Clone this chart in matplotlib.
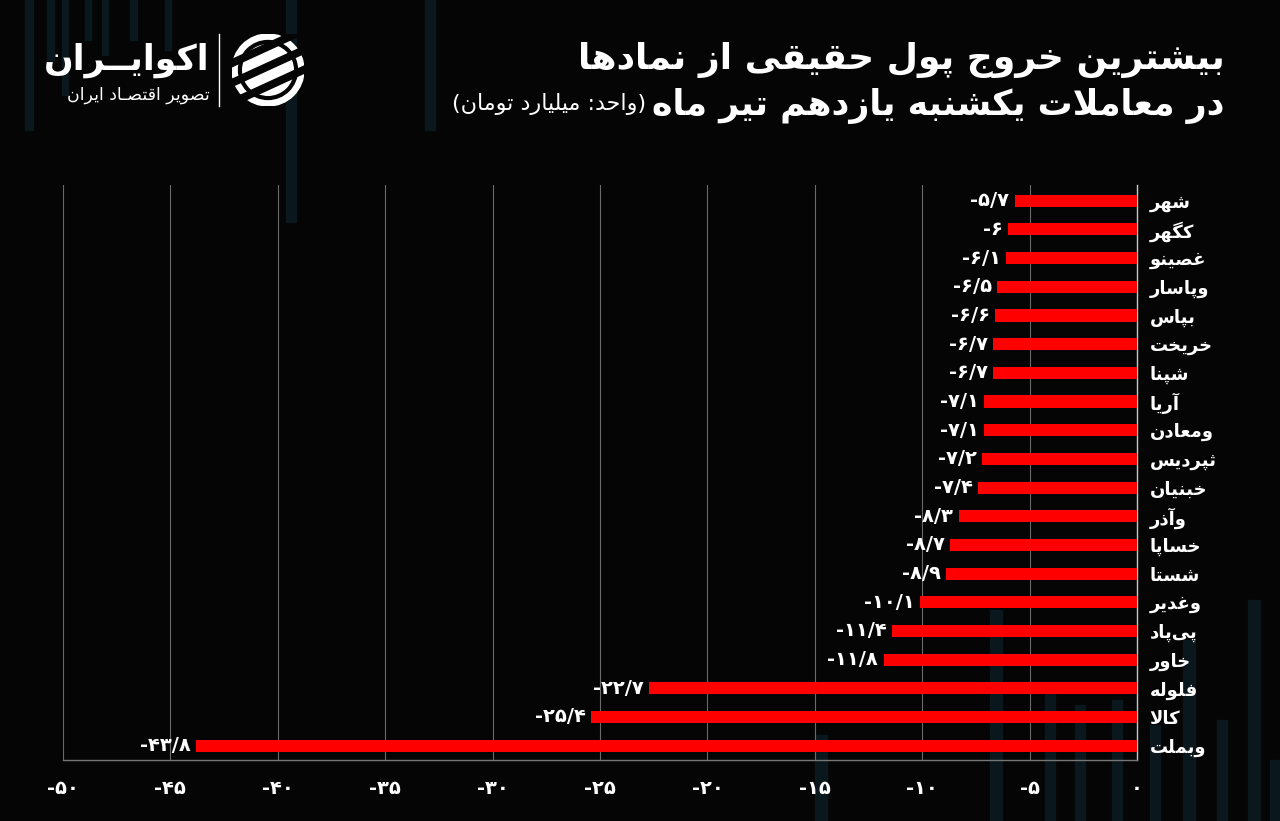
# Persian bar chart: biggest real-money outflows (billion toman)
import numpy as np
import matplotlib
matplotlib.use("Agg")
import matplotlib.pyplot as plt
from matplotlib.patches import Rectangle, Circle, Polygon

symbols = ["شهر", "کگهر", "غصینو", "وپاسار", "بپاس", "خریخت", "شپنا", "آریا",
           "ومعادن", "ثپردیس", "خبنیان", "وآذر", "خساپا", "شستا", "وغدیر",
           "پی\u200cپاد", "خاور", "فلوله", "کالا", "وبملت"]
values = [-5.7, -6, -6.1, -6.5, -6.6, -6.7, -6.7, -7.1, -7.1, -7.2, -7.4,
          -8.3, -8.7, -8.9, -10.1, -11.4, -11.8, -22.7, -25.4, -43.8]
xticks = [-50, -45, -40, -35, -30, -25, -20, -15, -10, -5, 0]

title1 = "بیشترین خروج پول حقیقی از نمادها"
title2 = "در معاملات یکشنبه یازدهم تیر ماه"
unit = "(واحد: میلیارد تومان)"
brand = "اکوایــران"
brand_sub = "تصویر اقتصـاد ایران"

BG = "#050505"

# --- minimal arabic/persian shaping (matplotlib has no text shaping) ---
FORMS = {
    'ا': (0xFE8D, 0xFE8E), 'آ': (0xFE81, 0xFE82), 'د': (0xFEA9, 0xFEAA),
    'ذ': (0xFEAB, 0xFEAC), 'ر': (0xFEAD, 0xFEAE), 'ز': (0xFEAF, 0xFEB0),
    'ژ': (0xFB8A, 0xFB8B), 'و': (0xFEED, 0xFEEE),
    'ب': (0xFE8F, 0xFE90, 0xFE91, 0xFE92), 'پ': (0xFB56, 0xFB57, 0xFB58, 0xFB59),
    'ت': (0xFE95, 0xFE96, 0xFE97, 0xFE98), 'ث': (0xFE99, 0xFE9A, 0xFE9B, 0xFE9C),
    'ج': (0xFE9D, 0xFE9E, 0xFE9F, 0xFEA0), 'چ': (0xFB7A, 0xFB7B, 0xFB7C, 0xFB7D),
    'ح': (0xFEA1, 0xFEA2, 0xFEA3, 0xFEA4), 'خ': (0xFEA5, 0xFEA6, 0xFEA7, 0xFEA8),
    'س': (0xFEB1, 0xFEB2, 0xFEB3, 0xFEB4), 'ش': (0xFEB5, 0xFEB6, 0xFEB7, 0xFEB8),
    'ص': (0xFEB9, 0xFEBA, 0xFEBB, 0xFEBC), 'ض': (0xFEBD, 0xFEBE, 0xFEBF, 0xFEC0),
    'ط': (0xFEC1, 0xFEC2, 0xFEC3, 0xFEC4), 'ظ': (0xFEC5, 0xFEC6, 0xFEC7, 0xFEC8),
    'ع': (0xFEC9, 0xFECA, 0xFECB, 0xFECC), 'غ': (0xFECD, 0xFECE, 0xFECF, 0xFED0),
    'ف': (0xFED1, 0xFED2, 0xFED3, 0xFED4), 'ق': (0xFED5, 0xFED6, 0xFED7, 0xFED8),
    'ک': (0xFB8E, 0xFB8F, 0xFB90, 0xFB91), 'گ': (0xFB92, 0xFB93, 0xFB94, 0xFB95),
    'ل': (0xFEDD, 0xFEDE, 0xFEDF, 0xFEE0), 'م': (0xFEE1, 0xFEE2, 0xFEE3, 0xFEE4),
    'ن': (0xFEE5, 0xFEE6, 0xFEE7, 0xFEE8), 'ه': (0xFEE9, 0xFEEA, 0xFEEB, 0xFEEC),
    'ی': (0xFBFC, 0xFBFD, 0xFBFE, 0xFBFF), 'ـ': (0x640, 0x640, 0x640, 0x640),
}
LAMALEF = {'ا': (0xFEFB, 0xFEFC), 'آ': (0xFEF5, 0xFEF6)}
MIRROR = {'(': ')', ')': '('}


def fa(s):
    out = []
    i = 0
    while i < len(s):
        c = s[i]
        if c not in FORMS:
            if c != '\u200c':
                out.append(MIRROR.get(c, c))
            i += 1
            continue
        prev = s[i - 1] if i > 0 else ''
        cp = len(FORMS.get(prev, ())) == 4
        if c == 'ل' and i + 1 < len(s) and s[i + 1] in LAMALEF:
            lig = LAMALEF[s[i + 1]]
            out.append(chr(lig[1] if cp else lig[0]))
            i += 2
            continue
        nxt = s[i + 1] if i + 1 < len(s) else ''
        f = FORMS[c]
        cn = len(f) == 4 and nxt in FORMS
        if cp and cn:
            g = f[3]
        elif cp:
            g = f[1]
        elif cn:
            g = f[2]
        else:
            g = f[0]
        out.append(chr(g))
        i += 1
    return ''.join(out[::-1])


def fa_num(v):
    return f"{v:g}".translate(str.maketrans("0123456789.", "۰۱۲۳۴۵۶۷۸۹/"))


plt.rcParams['font.family'] = ['DejaVu Sans']

fig = plt.figure(figsize=(12.8, 8.21), dpi=100, facecolor=BG)


def fx(x):
    return x / 1280


def fy(y):
    return 1 - y / 821


# faint background columns (decoration)
deco = [(25, 0, 8, 130), (47, 0, 7, 60), (62, 0, 6, 95), (85, 0, 6, 40), (102, 0, 6, 55),
        (130, 0, 7, 40), (165, 0, 6, 50), (286, 0, 10, 222), (425, 0, 10, 130),
        (815, 735, 12, 86), (990, 610, 12, 211), (1045, 690, 10, 131), (1075, 705, 10, 116),
        (1112, 700, 10, 121), (1150, 725, 10, 96), (1183, 640, 12, 181),
        (1217, 720, 10, 101), (1248, 600, 12, 221), (1270, 760, 10, 61)]
for x, y, w, h in deco:
    fig.add_artist(Rectangle((fx(x), fy(y + h)), w / 1280, h / 821,
                             transform=fig.transFigure, color="#0a181d", zorder=0))

ax = fig.add_axes([fx(63), fy(760), fx(1137) - fx(63), fy(185) - fy(760)])
ax.patch.set_alpha(0)

ypos = np.arange(len(symbols))
ax.barh(ypos, values, height=0.42, color="#ff0000", zorder=3)

for y, v in zip(ypos, values):
    ax.text(v - 0.25, y, fa_num(v), ha="right", va="center", color="white",
            fontsize=14, fontweight="bold", zorder=4)

ax.set_xlim(-50, 0)
ax.set_ylim(19.5, -0.55)
ax.set_xticks(xticks)
ax.set_xticklabels([fa_num(t) for t in xticks])
ax.set_yticks(ypos)
ax.set_yticklabels([fa(s) for s in symbols])
ax.yaxis.tick_right()
ax.tick_params(axis="y", length=0, pad=9, labelsize=13, labelcolor="white")
ax.tick_params(axis="x", length=0, pad=14, labelsize=14, labelcolor="white")
for lab in ax.get_xticklabels() + ax.get_yticklabels():
    lab.set_fontweight("bold")

for t in xticks[:-1]:
    ax.axvline(t, color="#6a6a6a", lw=0.8, zorder=1)
for side in ["top", "left"]:
    ax.spines[side].set_visible(False)
ax.spines["right"].set_color("#c8c8c8")
ax.spines["right"].set_linewidth(1.0)
ax.spines["bottom"].set_color("#777777")
ax.spines["bottom"].set_linewidth(1.0)

# titles
fig.text(fx(1225), fy(60), fa(title1), ha="right", va="center", color="white",
         fontsize=26, fontweight="bold")
t2 = fig.text(fx(1225), fy(106), fa(title2), ha="right", va="center", color="white",
              fontsize=25, fontweight="bold")
fig.canvas.draw()
bb = t2.get_window_extent(fig.canvas.get_renderer())
fig.text((bb.x0 - 6) / 1280, fy(104), fa(unit), ha="right", va="center",
         color="white", fontsize=16)

# logo
fig.text(fx(210), fy(60), fa(brand), ha="right", va="center", color="white",
         fontsize=25, fontweight="bold")
fig.text(fx(210), fy(95), fa(brand_sub), ha="right", va="center", color="white",
         fontsize=12.5)
fig.add_artist(plt.Line2D([fx(219), fx(219)], [fy(34), fy(106)],
                          transform=fig.transFigure, color="white", lw=1))
lax = fig.add_axes([fx(232), fy(106), 72 / 1280, 72 / 821])
lax.set_xlim(-1, 1)
lax.set_ylim(-1, 1)
lax.axis("off")
lax.patch.set_alpha(0)
lax.add_patch(Circle((0, 0), 1, color="white"))
for k in [-0.55, 0.0, 0.55]:
    lax.add_patch(Polygon([(-1.2, k - 0.55), (1.2, k + 0.55), (1.2, k + 0.75), (-1.2, k - 0.35)],
                          closed=True, color=BG))
lax.add_patch(Circle((0, 0), 0.78, fill=False, ec=BG, lw=3))

fig.savefig("out.png", dpi=100, facecolor=BG)
